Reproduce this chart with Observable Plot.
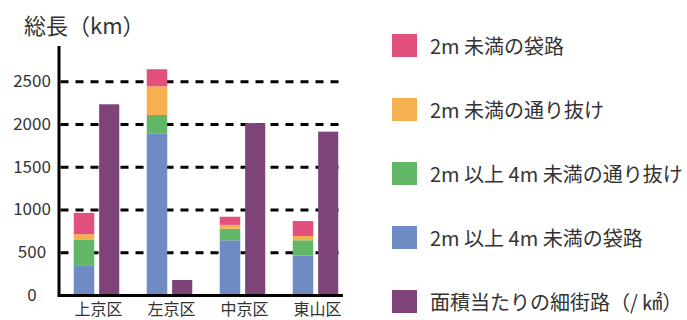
<!DOCTYPE html>
<html>
<head>
<meta charset="utf-8">
<script src="https://cdn.jsdelivr.net/npm/d3@7"></script>
<script src="https://cdn.jsdelivr.net/npm/@observablehq/plot@0.6"></script>
<style>
  body { margin: 0; background: #fff; font-family: "Noto Sans CJK JP", "Noto Sans", sans-serif; }
  #wrap { position: relative; width: 687px; height: 320px; overflow: hidden; }
  #chart { position: absolute; left: 0; top: 0; }
  #title { position: absolute; left: 24px; top: 13px; font-size: 22px; line-height: 1; color: #333; white-space: nowrap; }
  .leg { position: absolute; left: 392px; display: flex; align-items: center; white-space: nowrap; font-size: 20px; color: #333; line-height: 1; }
  .sw { width: 25px; height: 23px; margin-right: 13px; flex: none; }
</style>
</head>
<body>
<div id="wrap">
  <div id="chart"></div>
  <div id="title">総長（km）</div>
  <div id="legend"></div>
</div>
<script>
const districts = ["上京区", "左京区", "中京区", "東山区"];
const types = ["2m 以上 4m 未満の袋路", "2m 以上 4m 未満の通り抜け", "2m 未満の通り抜け", "2m 未満の袋路"];
const typeColors = ["#6e8cc3", "#62b766", "#f6b050", "#e2517e"];
const blueValues = [340, 1885, 640, 460];
const greenValues = [310, 220, 135, 180];
const orangeValues = [60, 335, 45, 50];
const pinkValues = [250, 200, 95, 175];
const densityLabel = "面積当たりの細街路（/ ㎢）";
const densityColor = "#7e4379";
const densityValues = [2230, 175, 2010, 1910];
const yTicks = [0, 500, 1000, 1500, 2000, 2500];

const seriesValues = [blueValues, greenValues, orangeValues, pinkValues];
const stacked = districts.flatMap((d, i) =>
  seriesValues.map((arr, j) => ({district: d, type: types[j], value: arr[i]}))
);
const density = districts.map((d, i) => ({district: d, value: densityValues[i]}));

const chart = Plot.plot({
  width: 370,
  height: 320,
  marginLeft: 58.5,
  marginRight: 17.5,
  marginTop: 47,
  marginBottom: 25,
  style: {fontFamily: '"Noto Sans CJK JP", "Noto Sans", sans-serif', background: "transparent"},
  x: {domain: districts, padding: 0, axis: null},
  y: {domain: [0, 2900], axis: null},
  color: {domain: types, range: typeColors},
  marks: [
    Plot.ruleY(yTicks.filter(t => t > 0), {stroke: "#000", strokeWidth: 3, strokeDasharray: "8,7", insetLeft: 2, insetRight: 9.5}),
    Plot.barY(stacked, {x: "district", y: "value", fill: "type", insetLeft: 13.75, insetRight: 38.75}),
    Plot.barY(density, {x: "district", y: "value", fill: densityColor, insetLeft: 39.15, insetRight: 13.75}),
    Plot.ruleY([0], {stroke: "#000", strokeWidth: 3, insetRight: 9.5}),
    Plot.frame({anchor: "left", stroke: "#000", strokeWidth: 3}),
    Plot.axisY({ticks: yTicks, tickSize: 0, tickPadding: 0, textAnchor: "middle", dx: -27, fontSize: 17, fill: "#333", label: null, tickFormat: d => String(d)}),
    Plot.axisX({tickSize: 0, tickPadding: 8, dx: 1.5, fontSize: 16, fill: "#333", label: null})
  ]
});
document.getElementById("chart").appendChild(chart);

const legendItems = [
  {label: types[3], color: typeColors[3]},
  {label: types[2], color: typeColors[2]},
  {label: types[1], color: typeColors[1]},
  {label: types[0], color: typeColors[0]},
  {label: densityLabel, color: densityColor}
];
const legend = document.getElementById("legend");
legendItems.forEach((it, i) => {
  const row = document.createElement("div");
  row.className = "leg";
  row.style.top = (34 + i * 64) + "px";
  row.innerHTML = `<span class="sw" style="background:${it.color}"></span><span>${it.label}</span>`;
  legend.appendChild(row);
});
</script>
</body>
</html>
